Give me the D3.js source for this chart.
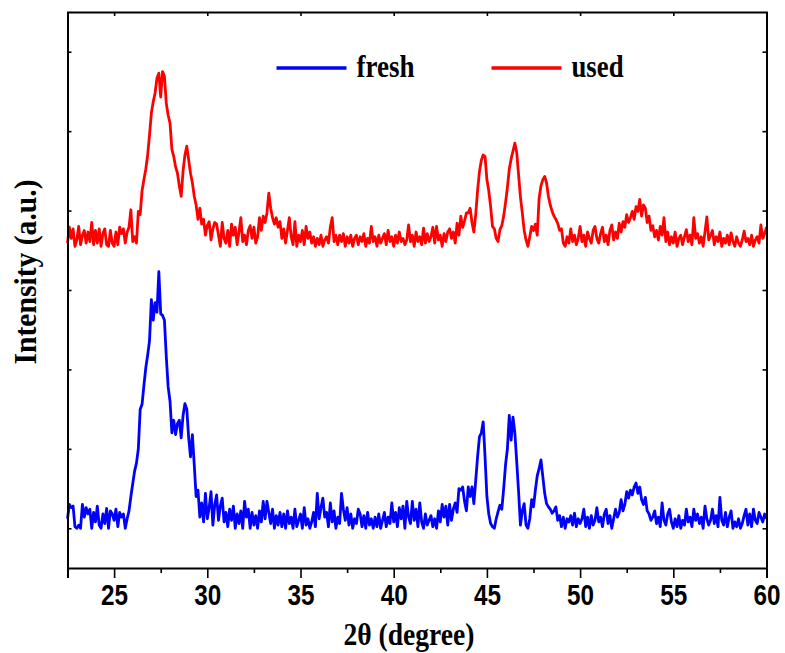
<!DOCTYPE html>
<html lang="en">
<head>
<meta charset="UTF-8">
<title>XRD fresh / used</title>
<script src="https://d3js.org/d3.v7.min.js"></script>
<style>
    body { margin: 0; background: #fff; }
    .tick text { font-family: "Liberation Sans", Arial, sans-serif; font-weight: bold; font-size: 29px; fill: #000; }
    .title { font-family: "Liberation Serif", "Times New Roman", serif; font-weight: bold; fill: #000; }
    .domain { stroke: #000; stroke-width: 2; }
    .tick line { stroke: #000; stroke-width: 1.6; }
    .trace { fill: none; stroke-width: 2.8; stroke-linejoin: round; }
</style>
</head>
<body>
<div id="chart"></div>
<script>

// 2theta grid of the scan
const thetaStart = 22.5, thetaStep = 0.1;

// fresh catalyst, intensity above its own background
const freshRaw = [
    12, 30, 26, 28, 2,
    0, 4, 0, 30, 14, 26, 18, 24, 0, 20,
    8, 28, 4, 0, 18, 6, 25, 0, 22, 18,
    10, 24, 2, 20, 14, 18, 0, 12, 22, 40,
    56, 72, 82, 100, 150, 156, 180, 202, 218, 236,
    288, 262, 284, 272, 323, 270, 268, 262, 216, 178,
    160, 120, 136, 118, 132, 136, 114, 142, 157, 150,
    114, 90, 118, 80, 40, 48, 14, 32, 8, 44,
    12, 26, 46, 4, 30, 42, 10, 28, 38, 8,
    20, 2, 24, 10, 28, 0, 18, 6, 22, 0,
    34, 14, 24, 0, 20, 4, 16, 0, 22, 8,
    34, 12, 34, 20, 6, 24, 0, 16, 4, 20,
    2, 18, 0, 22, 6, 14, 0, 24, 2, 10,
    18, 0, 26, 4, 12, 0, 8, 20, 2, 44,
    12, 26, 38, 14, 20, 2, 32, 8, 22, 0,
    14, 6, 44, 24, 10, 26, 4, 18, 0, 12,
    6, 24, 18, 2, 16, 0, 20, 4, 12, 0,
    14, 2, 18, 0, 10, 20, 2, 14, 6, 32,
    8, 20, 2, 26, 12, 28, 0, 34, 14, 6,
    34, 10, 24, 2, 32, 8, 0, 18, 4, 10,
    16, 2, 12, 0, 22, 8, 30, 14, 28, 4,
    30, 10, 24, 32, 20, 50, 48, 52, 34, 22,
    52, 40, 52, 31, 60, 90, 115, 120, 134, 90,
    40, 18, 6, 2, 0, 12, 21, 29, 24, 50,
    80, 100, 142, 111, 140, 120, 84, 46, 4, 22,
    31, 4, 0, 12, 36, 27, 48, 66, 75, 86,
    65, 44, 31, 27, 24, 19, 22, 27, 10, 16,
    2, 14, 0, 12, 8, 16, 4, 19, 2, 12,
    6, 12, 24, 2, 14, 0, 16, 4, 10, 26,
    8, 14, 2, 18, 24, 6, 16, 0, 12, 24,
    14, 20, 36, 22, 30, 46, 38, 48, 42, 52,
    57, 44, 52, 36, 30, 39, 22, 18, 10, 14,
    22, 6, 14, 2, 32, 10, 4, 18, 24, 8,
    0, 12, 2, 16, 0, 10, 4, 24, 8, 14,
    2, 24, 10, 18, 6, 14, 0, 28, 12, 4,
    10, 24, 6, 16, 2, 39, 10, 4, 20, 2,
    14, 22, 0, 8, 2, 12, 0, 6, 16, 24,
    4, 18, 2, 24, 10, 6, 20, 14, 8, 18,
    12
];

// used catalyst
const usedRaw = [
    4, 24, 10, 22, 0,
    8, 25, 2, 14, 20, 4, 18, 6, 30, 2,
    20, 4, 22, 0, 16, 22, 2, 0, 20, 4,
    0, 18, 2, 24, 16, 22, 4, 18, 24, 46,
    6, 12, 4, 44, 40, 70, 84, 97, 115, 140,
    168, 182, 193, 212, 218, 188, 220, 214, 180, 165,
    155, 122, 113, 100, 92, 76, 63, 95, 115, 126,
    109, 92, 80, 63, 52, 34, 48, 28, 34, 14,
    26, 31, 8, 22, 30, 28, 14, 0, 30, 10,
    4, 20, 0, 28, 14, 24, 2, 18, 36, 6,
    14, 2, 20, 26, 10, 24, 4, 12, 36, 20,
    38, 30, 42, 67, 48, 36, 28, 36, 24, 31,
    10, 22, 4, 20, 36, 12, 2, 31, 0, 14,
    6, 20, 2, 25, 10, 18, 4, 12, 0, 10,
    2, 14, 0, 8, 12, 4, 24, 36, 6, 14,
    2, 14, 6, 16, 0, 12, 4, 14, 0, 10,
    14, 2, 12, 6, 16, 0, 10, 4, 25, 6,
    12, 0, 14, 4, 10, 16, 2, 20, 6, 12,
    0, 14, 4, 18, 6, 10, 2, 8, 27, 6,
    14, 0, 18, 6, 12, 2, 23, 4, 16, 6,
    12, 24, 4, 25, 8, 14, 0, 16, 6, 18,
    22, 10, 18, 4, 29, 14, 38, 24, 32, 42,
    42, 48, 30, 18, 40, 70, 94, 108, 115, 113,
    84, 70, 50, 25, 22, 10, 6, 21, 26, 38,
    55, 74, 97, 110, 120, 130, 118, 90, 62, 42,
    20, 8, 0, 12, 25, 20, 28, 14, 60, 76,
    84, 88, 80, 63, 52, 44, 38, 34, 29, 20,
    22, 4, 0, 12, 4, 22, 6, 14, 2, 10,
    25, 6, 14, 0, 18, 10, 4, 20, 25, 10,
    4, 16, 24, 6, 14, 2, 20, 27, 8, 18,
    10, 29, 18, 31, 24, 40, 30, 36, 44, 34,
    50, 44, 59, 38, 52, 48, 30, 38, 20, 26,
    12, 20, 8, 25, 14, 36, 6, 18, 2, 12,
    4, 18, 0, 10, 14, 2, 12, 21, 6, 14,
    2, 36, 10, 16, 4, 12, 0, 18, 37, 8,
    14, 20, 2, 12, 6, 18, 0, 10, 4, 14,
    2, 17, 6, 0, 12, 4, 0, 8, 19, 6,
    10, 2, 14, 0, 8, 12, 4, 27, 10, 16,
    24
];

const seriesNames = ["fresh", "used"];
const seriesColors = ["#0000ff", "#ff0000"];
const seriesOffsets = [50, 405];   // vertical stacking of the two patterns

const xMajorTicks = [25, 30, 35, 40, 45, 50, 55, 60];
const xMinorTicks = [22.5, 27.5, 32.5, 37.5, 42.5, 47.5, 52.5, 57.5];
const yTicks = [50, 150, 250, 350, 450, 550, 650];

const margin = { top: 12, right: 18.5, bottom: 85, left: 67.5 };
const width = 785 - margin.left - margin.right;
const height = 653 - margin.top - margin.bottom;

const svg = d3.select("#chart")
    .append("svg")
    .attr("width", 785)
    .attr("height", 653)
    .append("g")
    .attr("transform", `translate(${margin.left},${margin.top})`);

const x = d3.scaleLinear().domain([22.5, 60]).range([0, width]);
const y = d3.scaleLinear().domain([0, 700]).range([height, 0]);

const series = [freshRaw, usedRaw].map((vals, k) => ({
    name: seriesNames[k],
    color: seriesColors[k],
    points: vals.map((v, i) => ({ t: thetaStart + i * thetaStep, v: v + seriesOffsets[k] }))
}));

const line = d3.line()
    .x(d => x(d.t))
    .y(d => y(d.v));

series.forEach(s => {
    svg.append("path")
        .datum(s.points)
        .attr("class", "trace")
        .attr("stroke", s.color)
        .attr("d", line);
});

// bottom axis: major with labels, minor without
svg.append("g")
    .attr("transform", `translate(0,${height})`)
    .call(d3.axisBottom(x).tickValues(xMajorTicks).tickSize(10).tickPadding(6).tickFormat(d3.format("d")))
    .selectAll(".tick text")
        .attr("textLength", 27)
        .attr("lengthAdjust", "spacingAndGlyphs");

svg.append("g")
    .attr("transform", `translate(0,${height})`)
    .call(d3.axisBottom(x).tickValues(xMinorTicks).tickSize(5).tickFormat(""))
    .select(".domain").remove();

// top / left / right frame with inward ticks
svg.append("g")
    .call(d3.axisTop(x).tickValues(xMajorTicks).tickSize(-4).tickFormat(""));

svg.append("g")
    .call(d3.axisLeft(y).tickValues(yTicks).tickSize(-4).tickSizeOuter(0).tickFormat(""));

svg.append("g")
    .attr("transform", `translate(${width},0)`)
    .call(d3.axisRight(y).tickValues(yTicks).tickSize(-4).tickSizeOuter(0).tickFormat(""));

// legend
const legend = svg.append("g");
const legendX = [209, 424];
const legendTextW = [58, 52];
series.forEach((s, i) => {
    legend.append("line")
        .attr("x1", legendX[i]).attr("x2", legendX[i] + 70)
        .attr("y1", 56).attr("y2", 56)
        .attr("stroke", s.color)
        .attr("stroke-width", 3.5);
    legend.append("text")
        .attr("class", "title")
        .attr("x", legendX[i] + 80)
        .attr("y", 65)
        .attr("textLength", legendTextW[i])
        .attr("lengthAdjust", "spacingAndGlyphs")
        .style("font-size", "32px")
        .text(s.name);
});

svg.append("text")
    .attr("class", "title")
    .attr("text-anchor", "middle")
    .attr("x", 409 - margin.left)
    .attr("y", 645 - margin.top)
    .attr("textLength", 131)
    .attr("lengthAdjust", "spacingAndGlyphs")
    .style("font-size", "31px")
    .text("2θ (degree)");

svg.append("text")
    .attr("class", "title")
    .attr("text-anchor", "middle")
    .attr("transform", `translate(${36 - margin.left}, ${272 - margin.top}) rotate(-90)`)
    .attr("textLength", 185)
    .attr("lengthAdjust", "spacingAndGlyphs")
    .style("font-size", "31px")
    .text("Intensity (a.u.)");
</script>
</body>
</html>
